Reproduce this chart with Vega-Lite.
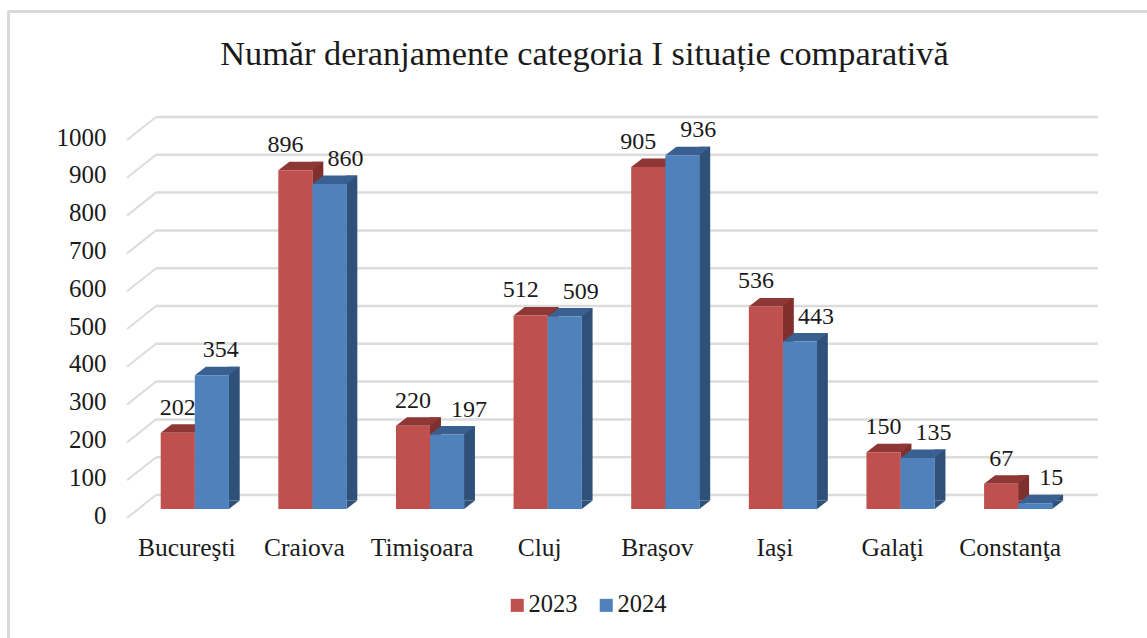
{
"$schema":"https://vega.github.io/schema/vega-lite/v6.json",
"width":1147,"height":638,"padding":0,"autosize":{"type":"none"},"background":"white",
"config":{"view":{"stroke":null},"font":"Liberation Serif"},
"title":{"text":"Număr deranjamente categoria I situație comparativă","font":"Liberation Serif","fontSize":34.3,"fontWeight":"normal","color":"#1a1a1a","anchor":"middle","frame":"group","dx":11,"offset":-66,"dy":33,"baseline":"alphabetic"},
"datasets":{
"bars":[
{"city":"Bucureşti","year":"2023","value":202},{"city":"Bucureşti","year":"2024","value":354},
{"city":"Craiova","year":"2023","value":896},{"city":"Craiova","year":"2024","value":860},
{"city":"Timişoara","year":"2023","value":220},{"city":"Timişoara","year":"2024","value":197},
{"city":"Cluj","year":"2023","value":512},{"city":"Cluj","year":"2024","value":509},
{"city":"Braşov","year":"2023","value":905},{"city":"Braşov","year":"2024","value":936},
{"city":"Iaşi","year":"2023","value":536},{"city":"Iaşi","year":"2024","value":443},
{"city":"Galaţi","year":"2023","value":150},{"city":"Galaţi","year":"2024","value":135},
{"city":"Constanţa","year":"2023","value":67},{"city":"Constanţa","year":"2024","value":15}],
"ticks":[{"tick":0},{"tick":100},{"tick":200},{"tick":300},{"tick":400},{"tick":500},{"tick":600},{"tick":700},{"tick":800},{"tick":900},{"tick":1000}]
},
"data":{"name":"bars"},
"layer":[
{"mark":{"type":"rule","color":"#d9d9d9","strokeWidth":3},
 "encoding":{"x":{"datum":0,"type":"quantitative","axis":null,"scale":{"domain":[0,1],"range":[8.5,1147]}},
 "x2":{"datum":0},
 "y":{"datum":0,"type":"quantitative","axis":null,"scale":{"domain":[0,1],"range":[11.5,638]}},"y2":{"datum":1}}},
{"mark":{"type":"rule","color":"#d9d9d9","strokeWidth":3},
 "encoding":{"x":{"datum":0,"type":"quantitative","axis":null,"scale":{"domain":[0,1],"range":[8.5,1147]}},
 "x2":{"datum":1},
 "y":{"datum":0,"type":"quantitative","axis":null,"scale":{"domain":[0,1],"range":[11.5,638]}}}},
{"data":{"name":"ticks"},"mark":{"type":"rule","color":"#dcdcdc","strokeWidth":2.5,"yOffset":-14},
 "encoding":{"x":{"datum":0,"type":"quantitative","axis":null,"scale":{"domain":[0,1],"range":[156,1098]}},"x2":{"datum":1},
 "y":{"field":"tick","type":"quantitative","axis":null,"scale":{"domain":[0,1000],"range":[509,131]}}}},
{"data":{"name":"ticks"},"mark":{"type":"rule","color":"#dcdcdc","strokeWidth":2,"yOffset":9,"y2Offset":-14},
 "encoding":{"x":{"datum":0,"type":"quantitative","axis":null,"scale":{"domain":[0,1],"range":[127,156]}},"x2":{"datum":1},
 "y":{"field":"tick","type":"quantitative","axis":null,"scale":{"domain":[0,1000],"range":[509,131]}},"y2":{"field":"tick"}}},
{"encoding":{
 "x":{"field":"city","type":"nominal","sort":null,"title":null,"scale":{"range":[136,1077],"paddingInner":0.42,"paddingOuter":0.21},
  "axis":{"orient":"bottom","offset":-129,"domain":false,"ticks":false,"labelAngle":0,"labelFont":"Liberation Serif","labelFontSize":25.5,"labelColor":"#1a1a1a","labelPadding":38,"labelOffset":-8,"labelBaseline":"middle"}},
 "xOffset":{"field":"year","type":"nominal","scale":{"paddingInner":0,"paddingOuter":0}},
 "y":{"field":"value","type":"quantitative","title":null,"scale":{"domain":[0,1000],"range":[509,131],"nice":false},
  "axis":{"orient":"left","offset":-106,"domain":false,"ticks":false,"grid":false,"format":"d","values":[0,100,200,300,400,500,600,700,800,900,1000],"labelFont":"Liberation Serif","labelFontSize":25,"labelColor":"#1a1a1a","labelPadding":0,"labelOffset":6}}},
 "layer":[
 {"transform":[{"filter":{"field":"year","equal":"2023"}}],
  "mark":{"type":"rule","strokeWidth":11,"color":"#7f302e","yOffset":-8.5,"y2Offset":-8.5},
  "encoding":{"xOffset":{"value":39.5},"y2":{"datum":0}}},
 {"transform":[{"filter":{"field":"year","equal":"2024"}}],
  "mark":{"type":"rule","strokeWidth":11,"color":"#2f5079","yOffset":-8.5,"y2Offset":-8.5},
  "encoding":{"xOffset":{"value":73.5},"y2":{"datum":0}}},
 {"mark":{"type":"point","filled":true,"opacity":1,"size":4,"shape":"M17,0 L28,-8.5 L17,-8.5 Z"},
  "encoding":{"y":{"datum":0,"type":"quantitative"},"color":{"field":"year","legend":null,"scale":{"domain":["2023","2024"],"range":["#7f302e","#2f5079"]}}}},
 {"mark":{"type":"point","filled":true,"opacity":1,"size":4,"shape":"M-17,0 L-6,-8.5 L28,-8.5 L17,0 Z"},
  "encoding":{"color":{"field":"year","legend":null,"scale":{"domain":["2023","2024"],"range":["#8e3735","#3a6091"]}}}},
 {"mark":{"type":"bar"},
  "encoding":{"color":{"field":"year","type":"nominal","scale":{"domain":["2023","2024"],"range":["#c0504d","#4f81bd"]},
   "legend":{"title":null,"orient":"none","legendX":505,"legendY":593,"direction":"horizontal","symbolType":"square","symbolSize":170,"symbolStrokeWidth":0,"labelFont":"Liberation Serif","labelFontSize":24.5,"labelColor":"#1a1a1a","columnPadding":16,"labelOffset":-1}}}},
 {"transform":[{"filter":{"field":"value","oneOf":[202,220,150,67]}}],
  "mark":{"type":"text","font":"Liberation Serif","fontSize":24,"color":"#1a1a1a","dy":-25,"dx":0},"encoding":{"text":{"field":"value","type":"quantitative"}}},
 {"transform":[{"filter":{"field":"value","oneOf":[896,512,905,536]}}],
  "mark":{"type":"text","font":"Liberation Serif","fontSize":24,"color":"#1a1a1a","dy":-25,"dx":-10},"encoding":{"text":{"field":"value","type":"quantitative"}}},
 {"transform":[{"filter":{"field":"value","oneOf":[354]}}],
  "mark":{"type":"text","font":"Liberation Serif","fontSize":24,"color":"#1a1a1a","dy":-25,"dx":9},"encoding":{"text":{"field":"value","type":"quantitative"}}},
 {"transform":[{"filter":{"field":"value","oneOf":[860,509,936,443,135,15]}}],
  "mark":{"type":"text","font":"Liberation Serif","fontSize":24,"color":"#1a1a1a","dy":-25,"dx":16},"encoding":{"text":{"field":"value","type":"quantitative"}}},
 {"transform":[{"filter":{"field":"value","oneOf":[197]}}],
  "mark":{"type":"text","font":"Liberation Serif","fontSize":24,"color":"#1a1a1a","dy":-25,"dx":22},"encoding":{"text":{"field":"value","type":"quantitative"}}}
 ],
 "resolve":{"scale":{"color":"independent"}}}
],
"resolve":{"scale":{"x":"independent","y":"independent"}}
}
